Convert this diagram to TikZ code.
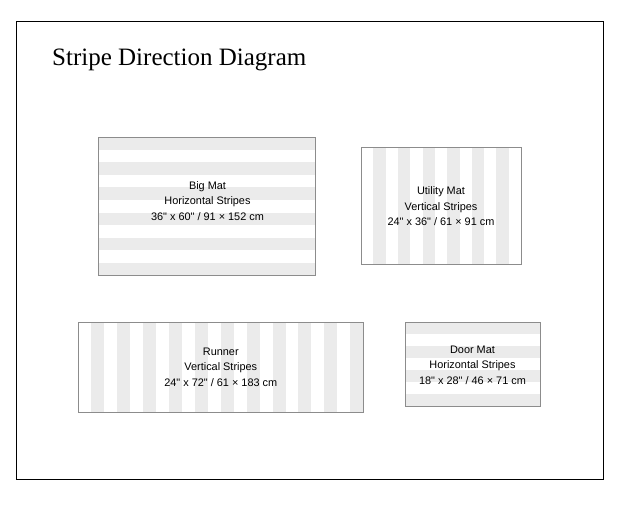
\documentclass[tikz,border=0pt]{standalone}
\usepackage{fontspec}
\setmainfont{Liberation Serif}
\newfontfamily\matfont{Liberation Sans}
\definecolor{stripegray}{RGB}{235,235,235}
\definecolor{matedge}{RGB}{140,140,140}
\begin{document}
\begin{tikzpicture}[x=1pt,y=1pt]
            \tikzstyle{every node}+=[inner sep=0pt]
            \tikzstyle{matlabel}=[align=center,font=\matfont\fontsize{10.9}{15.5}\selectfont]
            \tikzstyle{stripe}=[fill=stripegray]
            \tikzstyle{matbox}=[draw=matedge,line width=0.9pt]
                \useasboundingbox (0,0) rectangle (631,-519);
                \draw [black,line width=1pt] (16,-22) rectangle (603.5,-479.5);
                \node [anchor=base west,font=\fontsize{25}{30}\selectfont] (title) at (52,-65) {Stripe Direction Diagram};
                % big mat, horizontal
                \fill [stripe] (98,-137) rectangle (315,-149.6);
                \fill [stripe] (98,-162.2) rectangle (315,-174.8);
                \fill [stripe] (98,-187.4) rectangle (315,-200);
                \fill [stripe] (98,-212.6) rectangle (315,-225.2);
                \fill [stripe] (98,-237.8) rectangle (315,-250.4);
                \fill [stripe] (98,-263) rectangle (315,-275.6);
                \draw [matbox] (98,-137) rectangle (315,-275.6);
                \node [matlabel] (bigmat) at (207.5,-200.7) {Big Mat\\Horizontal Stripes\\36" x 60" / 91 × 152 cm};
                % utility mat, vertical
                \fill [stripe] (373.3,-147) rectangle (385.6,-264);
                \fill [stripe] (397.9,-147) rectangle (410.2,-264);
                \fill [stripe] (422.5,-147) rectangle (434.8,-264);
                \fill [stripe] (447.2,-147) rectangle (459.5,-264);
                \fill [stripe] (471.8,-147) rectangle (484.1,-264);
                \fill [stripe] (496.4,-147) rectangle (508.7,-264);
                \draw [matbox] (361,-147) rectangle (521,-264);
                \node [matlabel] (utilitymat) at (441,-206.5) {Utility Mat\\Vertical Stripes\\24" x 36" / 61 × 91 cm};
                % runner, vertical
                \fill [stripe] (91.25,-322) rectangle (104.2,-412);
                \fill [stripe] (117.15,-322) rectangle (130.1,-412);
                \fill [stripe] (143.05,-322) rectangle (156,-412);
                \fill [stripe] (168.95,-322) rectangle (181.9,-412);
                \fill [stripe] (194.85,-322) rectangle (207.8,-412);
                \fill [stripe] (220.75,-322) rectangle (233.7,-412);
                \fill [stripe] (246.65,-322) rectangle (259.6,-412);
                \fill [stripe] (272.55,-322) rectangle (285.5,-412);
                \fill [stripe] (298.45,-322) rectangle (311.4,-412);
                \fill [stripe] (324.35,-322) rectangle (337.3,-412);
                \fill [stripe] (350.25,-322) rectangle (363.2,-412);
                \draw [matbox] (78.3,-322) rectangle (363.3,-412);
                \node [matlabel] (runner) at (220.8,-367) {Runner\\Vertical Stripes\\24" x 72" / 61 × 183 cm};
                % door mat, horizontal
                \fill [stripe] (405,-322) rectangle (540,-334);
                \fill [stripe] (405,-346) rectangle (540,-358);
                \fill [stripe] (405,-370) rectangle (540,-382);
                \fill [stripe] (405,-394) rectangle (540,-406);
                \draw [matbox] (405,-322) rectangle (540,-406);
                \node [matlabel] (doormat) at (472.5,-365) {Door Mat\\Horizontal Stripes\\18" x 28" / 46 × 71 cm};
            \end{tikzpicture}
\end{document}
